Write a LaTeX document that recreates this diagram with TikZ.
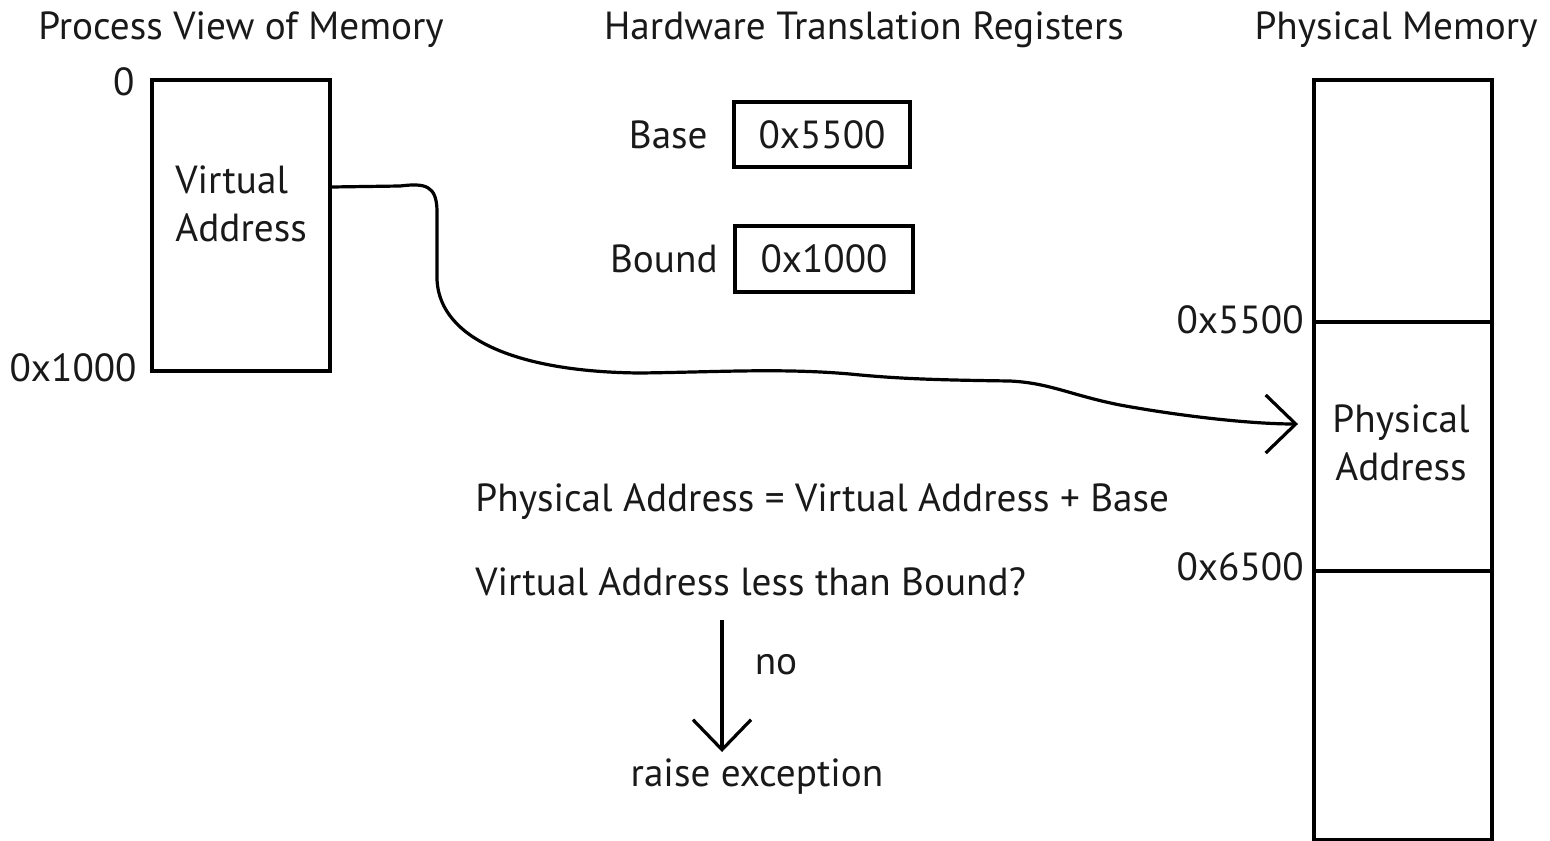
\documentclass[tikz,border=0pt]{standalone}
\usepackage{fontspec}
\setmainfont{PT Sans}
\usetikzlibrary{arrows.meta}
\tikzset{
  every node/.style={font=\fontsize{19.6}{24}\selectfont, text=black!90},
  reg/.style={draw, line width=1.8pt, inner sep=0pt},
  lbl/.style={inner sep=0pt},
  conn/.style={line width=1.6pt, -{Straight Barb[length=15pt,width=29pt,line width=1.6pt]}},
}
\begin{document}
\begin{tikzpicture}[x=0.5pt,y=-0.5pt]
\useasboundingbox (0,0) rectangle (1550,840);
% titles
\node[lbl] (t1) at (241,30) {Process View of Memory};
\node[lbl] (t2) at (864,30) {Hardware Translation Registers};
\node[lbl] (t3) at (1396,30) {Physical Memory};
% virtual memory box
\node[reg, anchor=north west, minimum width=89pt, minimum height=145.5pt] (vbox) at (150,78) {};
\node[lbl, anchor=west, align=left] (vtxt) at (175,204) {Virtual\\Address};
\node[lbl, anchor=east] (v0) at (135,82) {0};
\node[lbl, anchor=east] (v1) at (137,368) {0x1000};
% registers
\node[reg, minimum width=88pt, minimum height=32.5pt] (basebox) at (822,134.5) {0x5500};
\node[lbl, anchor=east] (baselbl) at (708,135) {Base};
\node[reg, minimum width=89pt, minimum height=33pt] (boundbox) at (824,259) {0x1000};
\node[lbl, anchor=east] (boundlbl) at (718,259) {Bound};
% physical memory
\node[reg, anchor=north west, minimum width=89pt, minimum height=121pt] (pmtop) at (1312,78) {};
\node[reg, anchor=north west, minimum width=89pt, minimum height=124.5pt] (pmmid) at (1312,320) {};
\node[reg, anchor=north west, minimum width=89pt, minimum height=134.5pt] (pmbot) at (1312,569) {};
\node[lbl, align=center] (ptxt) at (1401,443) {Physical\\Address};
\node[lbl, anchor=east] (p1) at (1304,320) {0x5500};
\node[lbl, anchor=east] (p2) at (1304,567) {0x6500};
% formulas
\node[lbl, anchor=west] (eq1) at (475,502) {Physical Address = Virtual Address + Base};
\node[lbl, anchor=west] (eq2) at (475,582) {Virtual Address less than Bound?};
\node[lbl] (no) at (776,665) {no};
\node[lbl] (raise) at (757,777) {raise exception};
% connectors
\coordinate (vstart) at (vbox.east |- 0,187);
\coordinate (ptip) at (1298,424);
\draw[conn] (vstart) -- (400,186) .. controls (425,183) and (437,185) .. (437,212)
  -- (437,280) .. controls (440,340) and (520,372) .. (640,373)
  .. controls (720,372) and (780,368) .. (850,374)
  .. controls (900,379) and (940,380) .. (1010,381)
  .. controls (1050,383) and (1070,395) .. (1120,405)
  .. controls (1180,416) and (1250,424) .. (ptip);
\coordinate (dtop) at (722,620);
\coordinate (dbot) at (722,752);
\draw[conn] (dtop) -- (dbot);
\end{tikzpicture}
\end{document}
